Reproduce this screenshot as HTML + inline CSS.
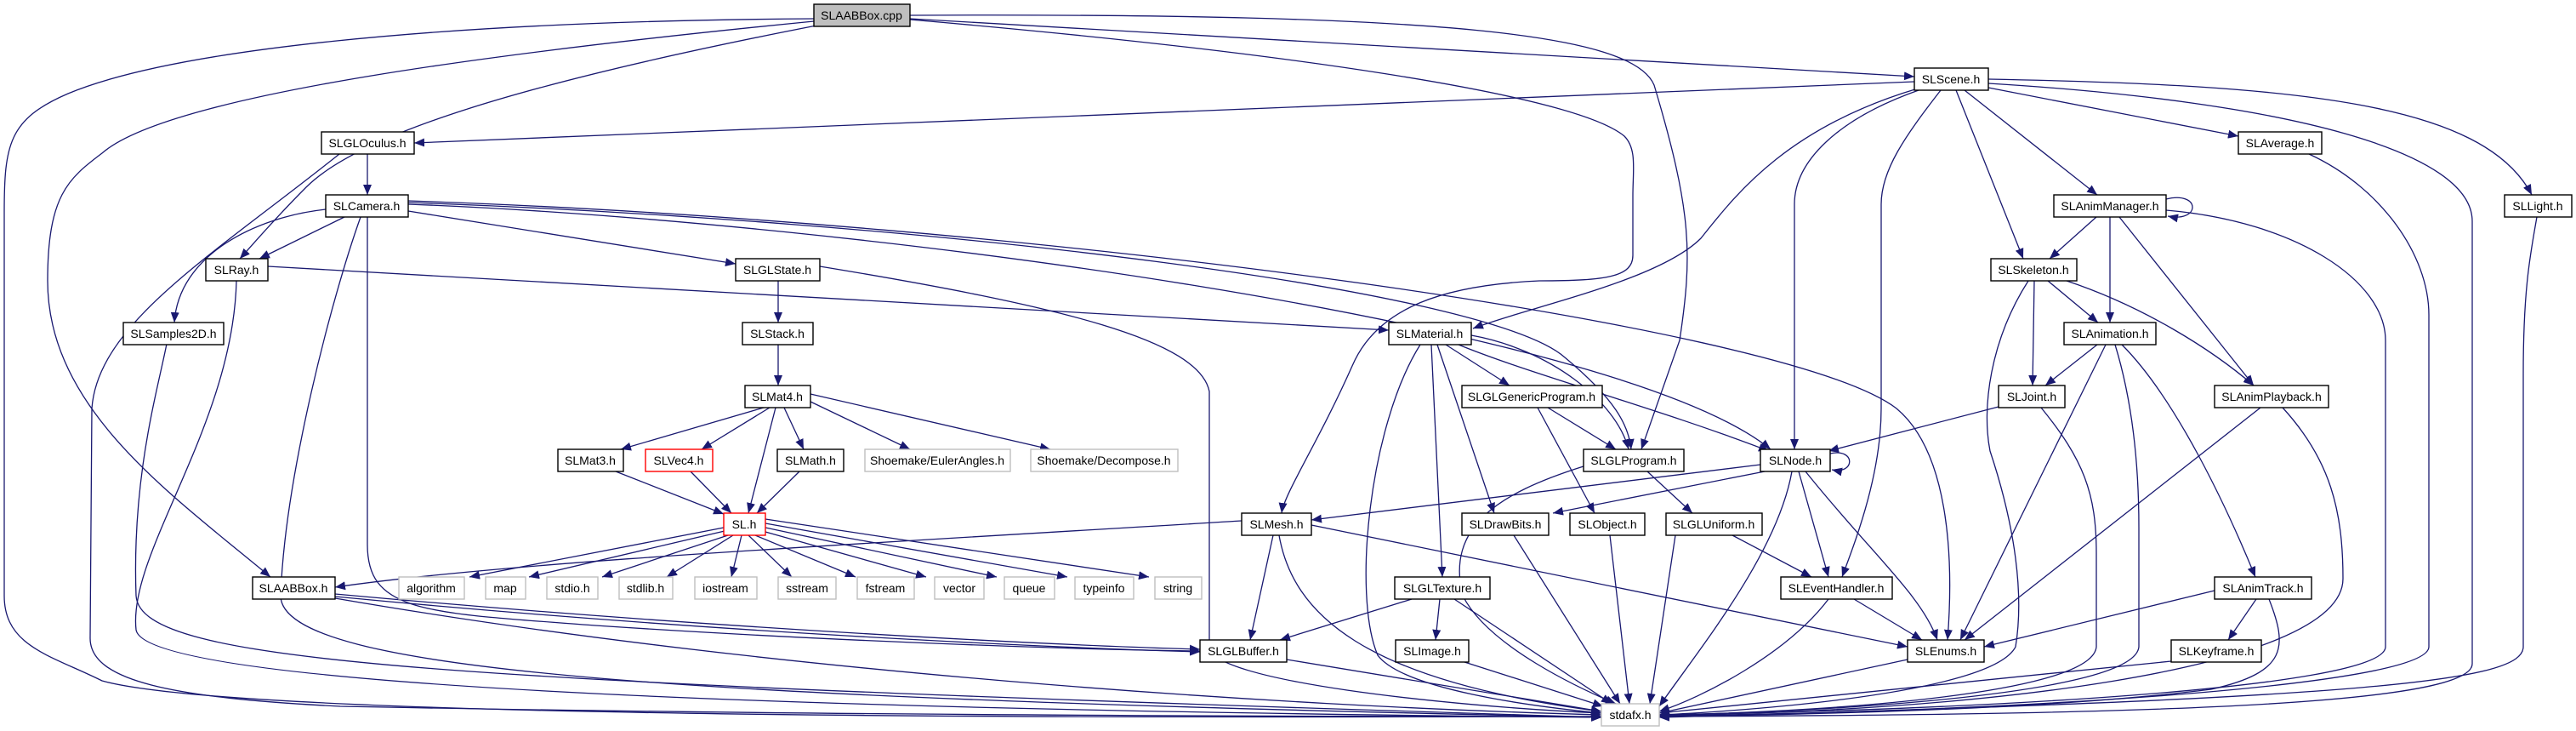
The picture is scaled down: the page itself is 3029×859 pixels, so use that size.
<!DOCTYPE html>
<html><head><meta charset="utf-8"><style>
html,body{margin:0;padding:0;background:#fff;}
svg{display:block;}
text{font-family:"Liberation Sans",sans-serif;font-size:14px;fill:#000;text-anchor:middle;}
.e{fill:none;stroke:#191970;stroke-width:1.3;marker-end:url(#a);}
.n{fill:#fff;stroke:#000;stroke-width:1.4;}
.g{fill:#fff;stroke:#bfbfbf;stroke-width:1.4;}
.r{fill:#fff;stroke:#ff0000;stroke-width:1.4;}
.c{fill:#bfbfbf;stroke:#000;stroke-width:1.4;}
</style></head><body>
<svg width="3029" height="859" viewBox="0 0 3029 859" xmlns="http://www.w3.org/2000/svg">
<defs><marker id="a" markerUnits="userSpaceOnUse" markerWidth="13" markerHeight="10" refX="12" refY="5" orient="auto"><path d="M0,0 L12,5 L0,10 z" fill="#191970"/></marker></defs>
<g>
<path class="e" d="M957,22 C500,25 200,60 80,110 C10,140 5,170 5,250 L5,700 C5,760 60,770 120,800 C300,850 1500,842 1883,842"/>
<path class="e" d="M957,25 C600,60 200,110 120,180 C80,210 56,230 56,330 C56,480 200,580 318,678"/>
<path class="e" d="M960,30 C600,100 420,160 360,220 C320,260 295,290 282,304"/>
<path class="e" d="M1070,22 L2251,90"/>
<path class="e" d="M1070,18 C1700,15 1920,40 1945,100 C1990,250 1990,300 1975,400 L1930,528"/>
<path class="e" d="M1070,23 C1500,60 1850,110 1910,160 C1925,175 1920,200 1920,230 L1920,300 C1920,325 1890,330 1810,330 C1700,335 1620,360 1590,430 C1550,520 1510,580 1507,603"/>
<path class="e" d="M2251,96 L487,168"/>
<path class="e" d="M2255,104 C2100,150 2040,230 2000,280 C1950,330 1800,360 1732,386"/>
<path class="e" d="M2256,106 C2160,140 2110,190 2110,240 L2110,528"/>
<path class="e" d="M2282,106 C2240,160 2212,200 2212,240 L2212,480 C2212,560 2180,640 2166,678"/>
<path class="e" d="M2300,106 L2379,304"/>
<path class="e" d="M2310,106 L2466,229"/>
<path class="e" d="M2338,103 L2632,160"/>
<path class="e" d="M2338,93 C2700,100 2920,120 2977,229"/>
<path class="e" d="M2338,98 C2700,120 2907,180 2907,260 L2907,780 C2907,830 2500,840 1951,842"/>
<path class="e" d="M480,236 C1200,260 2100,380 2230,480 C2290,530 2298,650 2290,752"/>
<path class="e" d="M480,240 C1000,260 1900,380 2082,528"/>
<path class="e" d="M480,238 C1100,260 1750,340 1840,420 C1900,470 1915,500 1918,528"/>
<path class="e" d="M315,313 L1633,388"/>
<path class="e" d="M432,181 L432,229"/>
<path class="e" d="M399,181 C250,300 115,380 108,480 L106,750 C106,800 200,820 400,830 C900,840 1500,842 1883,842"/>
<path class="e" d="M405,255 L305,304"/>
<path class="e" d="M383,246 C300,255 210,300 205,379"/>
<path class="e" d="M424,255 C390,350 335,560 330,700 C330,790 800,820 1883,843"/>
<path class="e" d="M432,255 L432,640 C432,720 500,720 700,735 C1000,755 1300,764 1411,765"/>
<path class="e" d="M480,248 L865,310"/>
<path class="e" d="M278,330 C274,500 150,650 160,740 C170,810 1000,835 1883,843"/>
<path class="e" d="M196,404 C185,460 155,560 160,700 C165,780 500,800 1883,843"/>
<path class="e" d="M915,330 L915,379"/>
<path class="e" d="M964,313 C1250,360 1410,400 1422,460 L1422,760 C1422,800 1700,830 1883,838"/>
<path class="e" d="M915,405 L915,453"/>
<path class="e" d="M898,479 L730,528"/>
<path class="e" d="M905,479 L825,528"/>
<path class="e" d="M912,479 L880,603"/>
<path class="e" d="M922,479 L945,528"/>
<path class="e" d="M953,472 L1070,528"/>
<path class="e" d="M953,463 L1235,528"/>
<path class="e" d="M724,554 L851,604"/>
<path class="e" d="M812,554 L860,603"/>
<path class="e" d="M940,554 L890,603"/>
<path class="e" d="M851,620 L552,678"/>
<path class="e" d="M852,624 L622,678"/>
<path class="e" d="M856,629 L708,678"/>
<path class="e" d="M862,629 L784,678"/>
<path class="e" d="M872,629 L860,678"/>
<path class="e" d="M880,629 L931,678"/>
<path class="e" d="M888,629 L1006,678"/>
<path class="e" d="M900,625 L1089,678"/>
<path class="e" d="M900,620 L1172,678"/>
<path class="e" d="M900,615 L1255,678"/>
<path class="e" d="M900,610 L1351,678"/>
<path class="e" d="M1460,612 C1000,640 600,660 394,690"/>
<path class="e" d="M394,701 C800,740 1200,760 1411,766"/>
<path class="e" d="M394,698 C800,735 1200,757 1411,763"/>
<path class="e" d="M394,703 C900,790 1500,830 1883,840"/>
<path class="e" d="M1700,405 L1775,453"/>
<path class="e" d="M1730,394 C1820,410 1900,470 1915,528"/>
<path class="e" d="M1683,405 L1696,678"/>
<path class="e" d="M1690,405 L1757,603"/>
<path class="e" d="M1670,405 C1610,500 1590,700 1620,770 C1650,810 1800,830 1883,838"/>
<path class="e" d="M1715,405 C1800,440 1950,480 2080,530"/>
<path class="e" d="M1820,479 L1900,528"/>
<path class="e" d="M1808,479 L1875,603"/>
<path class="e" d="M1937,554 L1990,603"/>
<path class="e" d="M1862,548 C1760,580 1700,620 1720,700 C1750,760 1860,810 1900,827"/>
<path class="e" d="M2070,546 L1542,611"/>
<path class="e" d="M2075,554 L1826,603"/>
<path class="e" d="M2115,554 L2150,678"/>
<path class="e" d="M2123,554 C2200,650 2260,700 2278,752"/>
<path class="e" d="M2107,554 C2090,650 2000,760 1951,830"/>
<path class="e" d="M2152,533 C2182,526 2182,558 2154,552"/>
<path class="e" d="M1497,629 L1470,752"/>
<path class="e" d="M1504,629 C1520,720 1600,800 1883,836"/>
<path class="e" d="M1542,617 L2243,760"/>
<path class="e" d="M1780,629 L1905,827"/>
<path class="e" d="M1893,629 L1916,827"/>
<path class="e" d="M1970,629 L1940,827"/>
<path class="e" d="M2037,629 L2130,678"/>
<path class="e" d="M1660,704 L1505,752"/>
<path class="e" d="M1693,704 L1688,752"/>
<path class="e" d="M1710,704 L1895,827"/>
<path class="e" d="M1722,778 L1885,830"/>
<path class="e" d="M1513,775 L1883,836"/>
<path class="e" d="M2180,704 L2260,752"/>
<path class="e" d="M2150,704 C2100,770 2000,820 1951,836"/>
<path class="e" d="M2243,775 L1951,838"/>
<path class="e" d="M2547,234 C2588,224 2588,262 2549,254"/>
<path class="e" d="M2465,255 L2410,304"/>
<path class="e" d="M2481,255 L2481,379"/>
<path class="e" d="M2492,255 L2650,453"/>
<path class="e" d="M2547,247 C2700,260 2805,330 2805,400 L2805,760 C2805,810 2300,835 1951,840"/>
<path class="e" d="M2392,330 L2390,453"/>
<path class="e" d="M2408,330 L2467,379"/>
<path class="e" d="M2430,330 C2520,360 2600,410 2650,453"/>
<path class="e" d="M2385,330 C2340,400 2330,480 2340,530 C2370,620 2380,700 2370,760 C2340,820 2000,838 1951,840"/>
<path class="e" d="M2466,405 L2405,453"/>
<path class="e" d="M2476,405 L2305,752"/>
<path class="e" d="M2487,405 C2510,480 2515,560 2515,620 L2515,760 C2510,820 2100,838 1951,840"/>
<path class="e" d="M2495,405 C2560,470 2620,600 2652,678"/>
<path class="e" d="M2350,478 L2150,530"/>
<path class="e" d="M2400,479 C2450,540 2465,580 2465,650 L2465,760 C2460,820 2100,838 1951,840"/>
<path class="e" d="M2658,479 L2310,752"/>
<path class="e" d="M2684,479 C2740,540 2755,600 2755,680 C2755,790 2300,838 1951,840"/>
<path class="e" d="M2604,694 L2333,760"/>
<path class="e" d="M2653,704 L2620,752"/>
<path class="e" d="M2668,704 C2690,760 2690,790 2600,810 C2400,835 2100,840 1951,842"/>
<path class="e" d="M2553,777 L1951,838"/>
<path class="e" d="M2715,181 C2800,220 2856,300 2856,370 L2856,760 C2856,810 2300,838 1951,841"/>
<path class="e" d="M2983,255 C2975,300 2967,340 2967,440 L2967,760 C2967,800 2800,820 1951,843"/>
</g>
<g>
<rect class="c" x="957" y="5" width="113" height="26"/><text x="1013" y="23">SLAABBox.cpp</text>
<rect class="n" x="2251" y="80" width="87" height="26"/><text x="2294" y="98">SLScene.h</text>
<rect class="n" x="378" y="155" width="109" height="26"/><text x="432" y="173">SLGLOculus.h</text>
<rect class="n" x="2632" y="155" width="98" height="26"/><text x="2681" y="173">SLAverage.h</text>
<rect class="n" x="383" y="229" width="97" height="26"/><text x="431" y="247">SLCamera.h</text>
<rect class="n" x="2415" y="229" width="132" height="26"/><text x="2481" y="247">SLAnimManager.h</text>
<rect class="n" x="2945" y="229" width="79" height="26"/><text x="2984" y="247">SLLight.h</text>
<rect class="n" x="242" y="304" width="73" height="26"/><text x="278" y="322">SLRay.h</text>
<rect class="n" x="865" y="304" width="99" height="26"/><text x="914" y="322">SLGLState.h</text>
<rect class="n" x="2341" y="304" width="101" height="26"/><text x="2391" y="322">SLSkeleton.h</text>
<rect class="n" x="145" y="379" width="118" height="26"/><text x="204" y="397">SLSamples2D.h</text>
<rect class="n" x="873" y="379" width="83" height="26"/><text x="914" y="397">SLStack.h</text>
<rect class="n" x="1633" y="379" width="97" height="26"/><text x="1681" y="397">SLMaterial.h</text>
<rect class="n" x="2427" y="379" width="108" height="26"/><text x="2481" y="397">SLAnimation.h</text>
<rect class="n" x="876" y="453" width="77" height="26"/><text x="914" y="471">SLMat4.h</text>
<rect class="n" x="1719" y="453" width="165" height="26"/><text x="1801" y="471">SLGLGenericProgram.h</text>
<rect class="n" x="2350" y="453" width="78" height="26"/><text x="2389" y="471">SLJoint.h</text>
<rect class="n" x="2604" y="453" width="134" height="26"/><text x="2671" y="471">SLAnimPlayback.h</text>
<rect class="n" x="656" y="528" width="77" height="26"/><text x="694" y="546">SLMat3.h</text>
<rect class="r" x="759" y="528" width="79" height="26"/><text x="798" y="546">SLVec4.h</text>
<rect class="n" x="914" y="528" width="78" height="26"/><text x="953" y="546">SLMath.h</text>
<rect class="g" x="1017" y="528" width="171" height="26"/><text x="1102" y="546">Shoemake/EulerAngles.h</text>
<rect class="g" x="1212" y="528" width="173" height="26"/><text x="1298" y="546">Shoemake/Decompose.h</text>
<rect class="n" x="1862" y="528" width="118" height="26"/><text x="1921" y="546">SLGLProgram.h</text>
<rect class="n" x="2070" y="528" width="82" height="26"/><text x="2111" y="546">SLNode.h</text>
<rect class="r" x="851" y="603" width="49" height="26"/><text x="875" y="621">SL.h</text>
<rect class="n" x="1460" y="603" width="82" height="26"/><text x="1501" y="621">SLMesh.h</text>
<rect class="n" x="1719" y="603" width="102" height="26"/><text x="1770" y="621">SLDrawBits.h</text>
<rect class="n" x="1846" y="603" width="88" height="26"/><text x="1890" y="621">SLObject.h</text>
<rect class="n" x="1959" y="603" width="113" height="26"/><text x="2015" y="621">SLGLUniform.h</text>
<rect class="n" x="297" y="678" width="97" height="26"/><text x="345" y="696">SLAABBox.h</text>
<rect class="g" x="469" y="678" width="77" height="26"/><text x="507" y="696">algorithm</text>
<rect class="g" x="571" y="678" width="47" height="26"/><text x="594" y="696">map</text>
<rect class="g" x="643" y="678" width="60" height="26"/><text x="673" y="696">stdio.h</text>
<rect class="g" x="728" y="678" width="63" height="26"/><text x="759" y="696">stdlib.h</text>
<rect class="g" x="817" y="678" width="73" height="26"/><text x="853" y="696">iostream</text>
<rect class="g" x="915" y="678" width="68" height="26"/><text x="949" y="696">sstream</text>
<rect class="g" x="1008" y="678" width="67" height="26"/><text x="1041" y="696">fstream</text>
<rect class="g" x="1099" y="678" width="58" height="26"/><text x="1128" y="696">vector</text>
<rect class="g" x="1181" y="678" width="59" height="26"/><text x="1210" y="696">queue</text>
<rect class="g" x="1264" y="678" width="69" height="26"/><text x="1298" y="696">typeinfo</text>
<rect class="g" x="1358" y="678" width="55" height="26"/><text x="1385" y="696">string</text>
<rect class="n" x="1640" y="678" width="112" height="26"/><text x="1696" y="696">SLGLTexture.h</text>
<rect class="n" x="2094" y="678" width="131" height="26"/><text x="2159" y="696">SLEventHandler.h</text>
<rect class="n" x="2604" y="678" width="114" height="26"/><text x="2661" y="696">SLAnimTrack.h</text>
<rect class="n" x="1411" y="752" width="102" height="26"/><text x="1462" y="770">SLGLBuffer.h</text>
<rect class="n" x="1641" y="752" width="86" height="26"/><text x="1684" y="770">SLImage.h</text>
<rect class="n" x="2243" y="752" width="90" height="26"/><text x="2288" y="770">SLEnums.h</text>
<rect class="n" x="2553" y="752" width="106" height="26"/><text x="2606" y="770">SLKeyframe.h</text>
<rect class="g" x="1883" y="827" width="68" height="26"/><text x="1917" y="845">stdafx.h</text>
</g>
</svg>
</body></html>
